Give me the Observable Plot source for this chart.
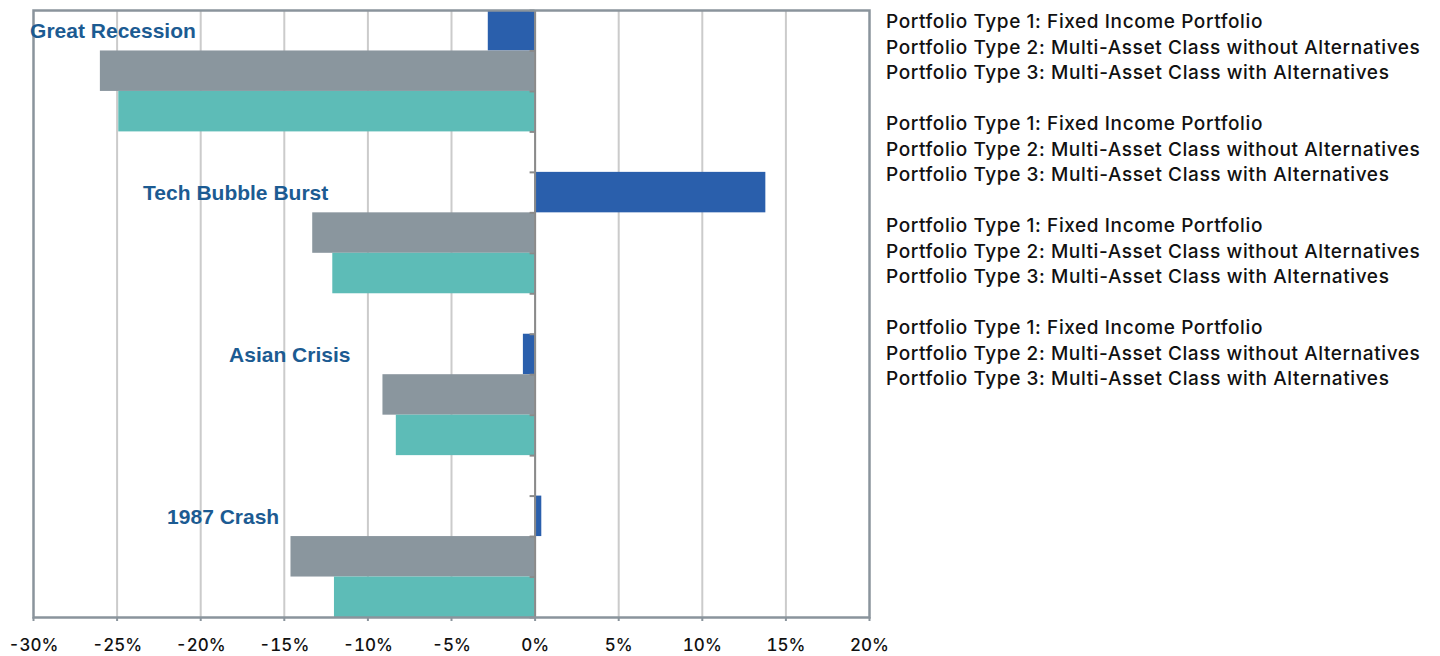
<!DOCTYPE html>
<html>
<head>
<meta charset="utf-8">
<script src="https://cdn.jsdelivr.net/npm/d3@7"></script>
<script src="https://cdn.jsdelivr.net/npm/@observablehq/plot@0.6"></script>
<style>
  html, body { margin: 0; padding: 0; background: #fff; }
  #wrap { position: relative; width: 1440px; height: 656px; overflow: hidden; }
  #chart { position: absolute; left: 0; top: 0; }
  #legend { position: absolute; left: 886px; top: 9px; font-family: Inter, "Liberation Sans", Arial, sans-serif; font-weight: 500; font-size: 19px; letter-spacing: 0.6px; line-height: 25.5px; color: #111; white-space: nowrap; }
  #legend .block { margin-bottom: 25.5px; }
</style>
</head>
<body>
<div id="wrap">
  <div id="chart"></div>
  <div id="legend"></div>
</div>
<script>
const categories = ["Great Recession", "Tech Bubble Burst", "Asian Crisis", "1987 Crash"];
const seriesNames = [
  "Portfolio Type 1: Fixed Income Portfolio",
  "Portfolio Type 2: Multi-Asset Class without Alternatives",
  "Portfolio Type 3: Multi-Asset Class with Alternatives"
];
const type1 = [-2.8, 13.8, -0.7, 0.4];
const type2 = [-26.0, -13.3, -9.1, -14.6];
const type3 = [-24.9, -12.1, -8.3, -12.0];
const xTicks = [-30, -25, -20, -15, -10, -5, 0, 5, 10, 15, 20];

const seriesValues = [type1, type2, type3];
const colors = ["#2a5fac", "#8a969e", "#5dbcb7"];
const slotsPer = seriesValues.length + 1;
const totalSlots = categories.length * slotsPer - 1;

const rows = [];
categories.forEach((c, i) => {
  seriesValues.forEach((vals, j) => {
    rows.push({category: c, series: seriesNames[j], value: vals[i], slot: i * slotsPer + j, color: colors[j]});
  });
});

// pixel offsets of each category label's left edge from the zero line
const labelDx = [-505, -392, -306, -368];

const W = 880, H = 656;
const chart = Plot.plot({
  width: W,
  height: H,
  marginLeft: 33,
  marginRight: 11,
  marginTop: 10,
  marginBottom: 39,
  style: {fontFamily: '"Liberation Sans", Arial, Helvetica, sans-serif', background: "#fff", overflow: "visible"},
  x: {domain: [-30, 20], label: null},
  y: {domain: [0, totalSlots], reverse: true, axis: null},
  marks: [
    Plot.ruleX(xTicks.slice(1, -1), {stroke: "#cbcbcb", strokeWidth: 2}),
    Plot.rect(rows, {x1: 0, x2: "value", y1: "slot", y2: d => d.slot + 1, fill: "color"}),
    Plot.ruleX([0], {stroke: "#8a8a8a", strokeWidth: 2}),
    Plot.ruleY(d3.range(totalSlots + 1), {x1: -0.3, x2: 0, stroke: "#8a8a8a", strokeWidth: 2}),
    Plot.frame({stroke: "#8a949c", strokeWidth: 2.5}),
    Plot.axisX({ticks: xTicks, tickFormat: d => d + "%", label: null, tickSize: 4, tickPadding: 17, stroke: "#8a949c", strokeWidth: 2, fontSize: 17, fontWeight: 500, fontFamily: 'Inter, "Liberation Sans", Arial, sans-serif', fill: "#111"}),
    ...categories.map((c, i) => Plot.text([c], {
      x: 0, y: i * slotsPer + 0.5, text: d => d, textAnchor: "start",
      dx: labelDx[i], dy: 1, fill: "#1c5b92", fontWeight: "bold", fontSize: 21
    }))
  ]
});
document.getElementById("chart").appendChild(chart);

const legend = document.getElementById("legend");
categories.forEach(() => {
  const b = document.createElement("div");
  b.className = "block";
  seriesNames.forEach(s => {
    const line = document.createElement("div");
    line.textContent = s;
    b.appendChild(line);
  });
  legend.appendChild(b);
});
</script>
</body>
</html>
